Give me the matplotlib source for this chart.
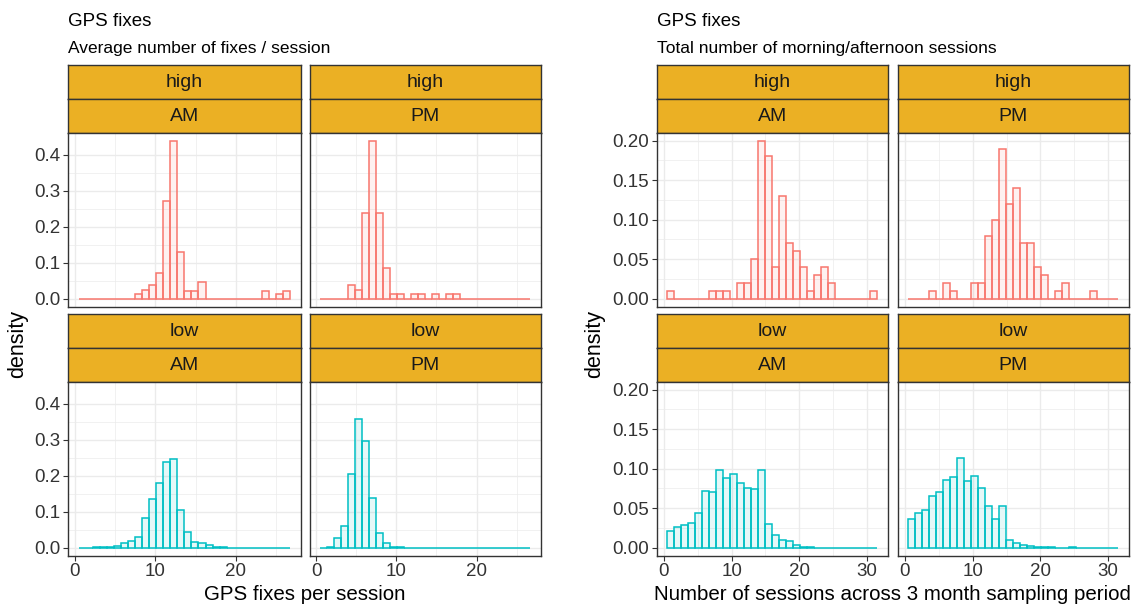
import matplotlib.pyplot as plt
import numpy as np

plt.rcParams['font.family'] = ['Liberation Sans', 'DejaVu Sans']

# binning (30 bins over the pooled range of each variable)
n_bins = 30
fix_range = (0.5, 26.7)
sess_range = (0.483, 31.517)

# density per bin: average number of GPS fixes per session
fix_high_am = [0, 0, 0, 0, 0, 0, 0, 0, 0.014, 0.024, 0.037, 0.071, 0.273, 0.44, 0.13,
               0.023, 0.023, 0.047, 0, 0, 0, 0, 0, 0, 0, 0, 0.023, 0, 0.013, 0.023]
fix_high_pm = [0, 0, 0, 0, 0.037, 0.024, 0.238, 0.44, 0.238, 0.085, 0.013, 0.013, 0, 0.013, 0.013,
               0, 0.013, 0, 0.013, 0.013, 0, 0, 0, 0, 0, 0, 0, 0, 0, 0]
fix_low_am = [0, 0, 0.002, 0.001, 0.003, 0.005, 0.012, 0.019, 0.029, 0.082, 0.135, 0.181, 0.239, 0.247, 0.104,
              0.044, 0.017, 0.014, 0.008, 0.003, 0.001, 0, 0, 0, 0, 0, 0, 0, 0, 0]
fix_low_pm = [0, 0.003, 0.026, 0.06, 0.204, 0.357, 0.296, 0.139, 0.042, 0.012, 0.003, 0.001, 0, 0, 0,
              0, 0, 0, 0, 0, 0, 0, 0, 0, 0, 0, 0, 0, 0, 0]

# density per bin: total number of morning/afternoon sessions
sess_high_am = [0.01, 0, 0, 0, 0, 0, 0.01, 0.01, 0.01, 0, 0.02, 0.02, 0.05, 0.20, 0.18,
                0.04, 0.13, 0.07, 0.06, 0.04, 0.01, 0.03, 0.04, 0.02, 0, 0, 0, 0, 0, 0.01]
sess_high_pm = [0, 0, 0, 0.01, 0, 0.02, 0.01, 0, 0, 0.02, 0.02, 0.08, 0.10, 0.19, 0.12,
                0.14, 0.07, 0.07, 0.04, 0.03, 0, 0.01, 0.02, 0, 0, 0, 0.01, 0, 0, 0]
sess_low_am = [0.0216, 0.026, 0.029, 0.031, 0.044, 0.072, 0.070, 0.098, 0.088, 0.093, 0.082, 0.075, 0.0746, 0.098, 0.030,
               0.0165, 0.0093, 0.008, 0.0034, 0.001, 0.0005, 0.0003, 0, 0, 0, 0, 0, 0, 0, 0]
sess_low_pm = [0.037, 0.044, 0.048, 0.065, 0.070, 0.086, 0.089, 0.113, 0.084, 0.091, 0.075, 0.053, 0.036, 0.053, 0.010,
               0.0064, 0.004, 0.0017, 0.001, 0.0008, 0.0005, 0, 0, 0.0005, 0, 0, 0, 0, 0, 0]

W, H = 1140, 606
fig = plt.figure(figsize=(W / 100, H / 100), dpi=100)

STRIP = '#EBB024'
RED = '#F8766D'
TEAL = '#00BFC4'
GRID = '#EBEBEB'
DARK = '#333333'


def px_axes(x0, y0, x1, y1):
    return fig.add_axes([x0 / W, 1 - y1 / H, (x1 - x0) / W, (y1 - y0) / H])


def strip(x0, y0, x1, y1, label):
    ax = px_axes(x0, y0, x1, y1)
    ax.set_facecolor(STRIP)
    ax.set_xticks([])
    ax.set_yticks([])
    for s in ax.spines.values():
        s.set_color(DARK)
        s.set_linewidth(1.0)
    ax.text(0.5, 0.48, label, ha='center', va='center', fontsize=14, color='#1A1A1A',
            transform=ax.transAxes)


def block(cols, title, subtitle, xlabel, panels, rng, xticks, xminor, yticks, yminor, yfmt, ylab_x):
    edges = np.linspace(rng[0], rng[1], n_bins + 1)
    centers = (edges[:-1] + edges[1:]) / 2
    width = edges[1] - edges[0]
    span = rng[1] - rng[0]
    xlim = (rng[0] - 0.05 * span, rng[1] + 0.05 * span)
    ymax = max(max(p[3]) for p in panels)
    ylim = (-0.05 * ymax, ymax * 1.05)

    rows = [(65.3, 99.0, 132.7, 306.7), (314.3, 348.0, 381.7, 555.7)]
    for i, (level, tod, color, dens) in enumerate(panels):
        r, c = divmod(i, 2)
        x0, x1 = cols[c]
        s0, s1, p0, p1 = rows[r]
        strip(x0, s0, x1, s1, level)
        strip(x0, s1, x1, p0, tod)
        ax = px_axes(x0, p0, x1, p1)
        ax.bar(centers, dens, width=width, facecolor=(color, 0.1), edgecolor=color,
               linewidth=1.1, zorder=3)
        ax.set_xlim(xlim)
        ax.set_ylim(ylim)
        ax.set_xticks(xticks)
        ax.set_xticks(xminor, minor=True)
        ax.set_yticks(yticks)
        ax.set_yticks(yminor, minor=True)
        ax.grid(True, which='major', color=GRID, linewidth=1.0, zorder=0)
        ax.grid(True, which='minor', color=GRID, linewidth=0.5, zorder=0)
        ax.tick_params(which='minor', length=0)
        ax.tick_params(which='major', length=3.5, width=0.8, color=DARK,
                       labelsize=13.5, labelcolor='#333333', pad=2)
        if c == 0:
            ax.set_yticklabels([yfmt.format(v) for v in yticks])
        else:
            ax.tick_params(axis='y', left=False, labelleft=False)
        if r == 1:
            ax.set_xticklabels([str(v) for v in xticks])
        else:
            ax.tick_params(axis='x', bottom=False, labelbottom=False)
        for s in ax.spines.values():
            s.set_color(DARK)
            s.set_linewidth(1.0)
        ax.set_axisbelow(True)

    left = cols[0][0]
    fig.text(left / W, 1 - 21.5 / H, title, ha='left', va='center', fontsize=13.5, color='black')
    fig.text(left / W, 1 - 48 / H, subtitle, ha='left', va='center', fontsize=12.5, color='black')
    mid = (cols[0][0] + cols[1][1]) / 2
    fig.text(mid / W, 1 - 594 / H, xlabel, ha='center', va='center', fontsize=14.8, color='black')
    fig.text(ylab_x / W, 1 - 344 / H, 'density', ha='center', va='center', rotation=90,
             fontsize=15.5, color='black')


block(cols=[(68.3, 300.5), (309.5, 541.0)],
      title='GPS fixes', subtitle='Average number of fixes / session',
      xlabel='GPS fixes per session',
      panels=[('high', 'AM', RED, fix_high_am), ('high', 'PM', RED, fix_high_pm),
              ('low', 'AM', TEAL, fix_low_am), ('low', 'PM', TEAL, fix_low_pm)],
      rng=fix_range, xticks=[0, 10, 20], xminor=[5, 15, 25],
      yticks=[0.0, 0.1, 0.2, 0.3, 0.4], yminor=[0.05, 0.15, 0.25, 0.35],
      yfmt='{:.1f}', ylab_x=18)

block(cols=[(656.7, 887.7), (897.7, 1129.0)],
      title='GPS fixes', subtitle='Total number of morning/afternoon sessions',
      xlabel='Number of sessions across 3 month sampling period',
      panels=[('high', 'AM', RED, sess_high_am), ('high', 'PM', RED, sess_high_pm),
              ('low', 'AM', TEAL, sess_low_am), ('low', 'PM', TEAL, sess_low_pm)],
      rng=sess_range, xticks=[0, 10, 20, 30], xminor=[5, 15, 25],
      yticks=[0.0, 0.05, 0.10, 0.15, 0.20], yminor=[0.025, 0.075, 0.125, 0.175],
      yfmt='{:.2f}', ylab_x=595)

fig.savefig('out.png', dpi=100, facecolor='white')
